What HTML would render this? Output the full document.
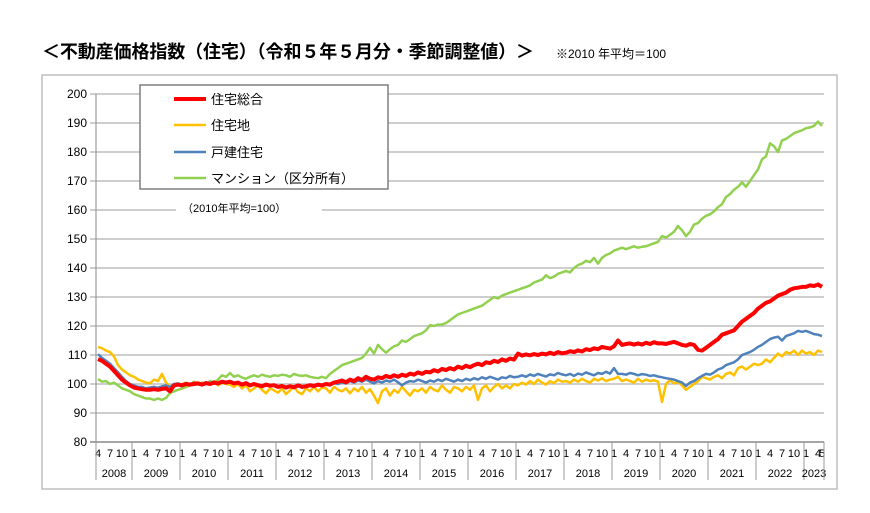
<!DOCTYPE html>
<html><head><meta charset="utf-8">
<style>
body{margin:0;background:#fff;width:870px;height:508px;overflow:hidden;font-family:"Liberation Sans","Noto Sans CJK JP",sans-serif;}
svg text{font-family:"Liberation Sans","Noto Sans CJK JP",sans-serif;}
</style></head><body>
<svg id="chart" width="870" height="508" xmlns="http://www.w3.org/2000/svg">
<text x="42" y="58" font-size="18" font-weight="bold" fill="#000" textLength="492">＜不動産価格指数（住宅）（令和５年５月分・季節調整値）＞</text>
<text x="556" y="58" font-size="12" fill="#000">※2010 年平均＝100</text>
<rect x="42" y="75" width="795" height="414" fill="none" stroke="#bfbfbf" stroke-width="1.5"/>
<g id="grid"></g>
<g id="yticks"></g>
<g id="xaxis"></g>
<g id="series"></g>
<rect x="176" y="198" width="146" height="20" fill="#fff"/>
<text x="182" y="212" font-size="11" fill="#000">（2010年平均=100）</text>
<g>
<rect x="140" y="85" width="248" height="104" fill="#fff" stroke="#7f7f7f" stroke-width="1.5"/>
<g><line x1="174" y1="99" x2="206" y2="99" stroke="#ff0000" stroke-width="4"/><text x="211" y="104" font-size="13">住宅総合</text></g>
<g><line x1="174" y1="125" x2="206" y2="125" stroke="#ffc000" stroke-width="2.5"/><text x="211" y="130" font-size="13">住宅地</text></g>
<g><line x1="174" y1="152" x2="206" y2="152" stroke="#4f81bd" stroke-width="2.5"/><text x="211" y="157" font-size="13">戸建住宅</text></g>
<g><line x1="174" y1="178" x2="206" y2="178" stroke="#92d050" stroke-width="2.5"/><text x="211" y="183" font-size="13">マンション（区分所有）</text></g>
</g>
</svg>
<script>
const years=[2008,2009,2010,2011,2012,2013,2014,2015,2016,2017,2018,2019,2020,2021,2022,2023];
const yTicks=[80,90,100,110,120,130,140,150,160,170,180,190,200];
const total=[108.6,108,107,106,104.5,103,101.5,100.5,99.5,
98.8,98.5,98.2,98,98,98.2,98,98.3,98.5,97.5,99.5,99.8,
99.5,100,99.8,100,100.2,99.8,100.3,100,100.5,100.2,100.8,100.5,
100.8,100.2,100.5,99.8,100.3,99.5,100,99.6,99.2,99.8,99.4,99.6,
99,99.3,98.8,99.2,98.9,99.5,99,99.2,99.6,99.3,99.8,99.5,
100,99.8,100.5,100.8,101.2,100.6,101.5,101,102,101.3,102.5,101.8,
101.5,102.3,102,102.8,102.3,103,102.5,103.2,102.8,103.6,103.2,104,
103.5,104.2,104,104.8,104.3,105.2,104.8,105.5,105,106,105.5,106.3,
105.8,106.5,107,106.5,107.5,107.2,108,107.6,108.5,108,108.8,108.4,
110.5,109.8,110.2,109.9,110.3,110,110.5,110.2,110.8,110.3,111,110.6,
110.8,111.3,111,111.6,111.2,112,111.7,112.3,112,112.8,112.5,112.2,
113,115,113.5,113.8,114,113.6,114,113.6,114.2,113.8,114.4,114,
114,113.8,114.2,114.5,114,113.5,113.2,113.8,113.5,111.8,111.5,112.5,
113.5,114.5,115.5,117,117.5,118,118.5,120,121.5,122.5,123.5,124.5,
126,127,128,128.5,129.5,130.5,131,131.5,132.5,133,133.2,133.5,
133.5,134,133.8,134.3,133.5];
const land=[112.8,112.3,111.5,111,109.5,106.5,105,104,103,
102.5,101.5,101,100.5,100.2,101.5,101,103.5,100.5,98.8,100,99.5,
100,100.5,99.8,100.8,100.3,99.5,100.5,100,101,99.5,100.5,100,
99.8,99,100,98.5,99.5,97.5,98.5,99.5,98,96.8,98.5,97.8,
97,98.5,96.5,97.8,99,97.2,96.5,98.5,97.5,99,97.5,98.8,
98.5,97,99,98,97.5,98.5,96.8,98.5,97.5,99,97,98.2,
96,93.4,97.5,98.5,96,98,97,99,97.5,96,98,97.5,
98.5,97,99,98,97.5,99.5,98,97,99,98.5,97.5,99,
98,99.5,94.5,98.5,99.5,97.5,99,100,98.5,99.5,98.5,100,
99.5,100.5,99.8,101,100,101.5,100.5,99.8,101,100.3,101.5,100.8,
101,100.5,101.5,100.8,101.8,101,100.5,101.8,101.2,102,101,101.5,
101.8,102.5,101,101.5,101,100.5,101.8,100.8,101.5,101,101.3,100.8,
93.8,100,101.3,100.2,100.8,99.5,98,99,100,101,102.5,102,
101.5,102.5,103,102,103.5,104,103,105.5,106,105,106,107,
106.5,107,108.5,107.5,109,110.5,109.5,111,110.5,111.5,110,111.5,
110.5,111,110,111.5,111];
const house=[110.3,109,108,107,105.5,104,102.5,101,100,
99.5,99,99,98.5,98.8,99,98.7,99.2,99.5,99,100,100.2,
99.8,100.3,100,100.5,100.2,100,100.6,100.3,100.8,100.4,101,100.5,
100.5,100,100.3,99.6,100,99.3,99.8,99.4,99,99.6,99.2,99.5,
98.8,99.2,98.5,99,98.6,99.3,98.8,99,99.4,99,99.6,99.3,
100,99.5,100.3,100,100.6,100.2,101,100.5,101.2,100.8,101.5,100.8,
100.2,101,100.5,101.2,100.8,101.5,100.6,99.5,100.5,101,100.8,101.5,
101,100.5,101.2,100.8,101.5,101,101.8,101.3,100.8,101.5,101,101.8,
101.3,102,101.5,102.3,101.8,102.5,102,101.5,102.3,102,102.8,102.3,
102.5,103,102.5,103.3,102.8,103.5,103,102.6,103.3,103,103.8,103.3,
103,103.5,102.8,103.6,103.2,104,103.5,103,103.8,103.5,104.2,103.6,
105.5,103.5,103.5,103.2,103.8,103.5,103,103.4,103.2,102.8,103,102.6,
102.3,102,101.8,101.5,101,100.5,99.3,100.5,101,102,102.8,103.5,
103.2,104,105,105.5,106.5,107,107.5,108.5,110,110.5,111,111.8,
112.8,113.5,114.5,115.5,116,116.3,115,116.5,117,117.5,118.3,118,
118.3,117.8,117.2,117,116.5];
const condo=[101.7,100.8,101,100,100.5,99.5,98.5,98,97.5,
96.5,96,95.5,95,95,94.5,95,94.5,95.2,96.9,97.5,98,
98.5,99,99.5,100,99.8,100.5,100,101,100.5,101.5,103,102.5,
103.8,102.5,103,102.2,101.8,102.5,103,102.5,103.2,102.8,102.5,103,
102.8,103.2,103,102.5,103.5,103,102.8,103,102.5,102.2,102,102.5,
102,103.5,104.5,105.5,106.5,107,107.5,108,108.5,109,110.5,112.5,
110.5,113.5,112,110.8,112,113,113.5,115,114.5,115.5,116.5,117,
117.5,118.5,120.3,120,120.5,120.5,121,122,123,124,124.5,125,
125.5,126,126.5,127,128,129,130,129.5,130.5,131,131.5,132,
132.5,133,133.5,134,135,135.5,136,137.5,136.5,137,138,138.5,
139,138.5,140,141,141.5,142.5,142,143.5,141.5,143.5,144.5,145,
146,146.5,147,146.5,147,147.5,147,147.3,147.5,148,148.5,149,
151,150.5,151.5,152.5,154.5,153,151,152.5,155,155.5,157,158,
158.5,159.5,161,162,164.5,165.5,167,168,169.5,168,170,172,
174,177.5,178.5,183,182,180,184,184.5,185.5,186.5,187,187.5,
188.2,188.5,189,190.5,189];
const X0=96, MW=4, Y80=442, PPU=2.9;
function xOf(i){return X0+MW*(i+0.5);}
function yOf(v){return Y80-(v-80)*PPU;}
const NS='http://www.w3.org/2000/svg';
function mk(tag,attrs,parent){const e=document.createElementNS(NS,tag);for(const k in attrs)e.setAttribute(k,attrs[k]);parent.appendChild(e);return e;}
const grid=document.getElementById('grid'),yt=document.getElementById('yticks'),xa=document.getElementById('xaxis'),ser=document.getElementById('series');
const nMonths=total.length;
const xEnd=X0+MW*nMonths;
yTicks.forEach(v=>{
  const y=yOf(v);
  const ln=mk('line',{x1:X0-6,x2:v===80?xEnd:824,y1:y,y2:y,stroke:v===80?'#888':'#bdbdbd','stroke-width':1.5},grid);
  
  
  const t=mk('text',{x:87,y:y+4,'font-size':12,'text-anchor':'end',fill:'#000'},yt);
  t.textContent=v;
  
  
});
mk('line',{x1:X0,x2:X0,y1:yOf(200),y2:Y80,stroke:'#888','stroke-width':1},grid);
let idx=0;
years.forEach((yr,k)=>{
  const startM=(k===0)?4:1;
  const endM=(yr===2023)?5:12;
  const i0=idx;
  for(let m=startM;m<=endM;m++){
    if(m===1||m===4||m===7||m===10||(yr===2023&&m===5)){
      const t=mk('text',{x:xOf(idx),y:457,'font-size':11,'text-anchor':'middle',fill:'#000'},xa);
      t.textContent=m;
      
      
    }
    idx++;
  }
  const xs=X0+MW*i0, xe=X0+MW*idx;
  const sep=mk('line',{x1:xs,x2:xs,y1:Y80,y2:480,stroke:'#999','stroke-width':1},xa);
  
  
  const yl=mk('text',{x:(xs+xe)/2,y:477,'font-size':11,'text-anchor':'middle',fill:'#000'},xa);
  yl.textContent=yr;
  
  
});
mk('line',{x1:xEnd,x2:xEnd,y1:Y80,y2:480,stroke:'#999','stroke-width':1},xa);
function drawLine(arr,color,w,name){
  const d=arr.map((v,i)=>(i?'L':'M')+xOf(i).toFixed(1)+' '+yOf(v).toFixed(1)).join(' ');
  const p=mk('path',{d:d,fill:'none',stroke:color,'stroke-width':w,'stroke-linejoin':'round'},ser);
  
  
}
drawLine(condo,'#92d050',2.5,'line-condo');
drawLine(land,'#ffc000',2.5,'line-residential-land');
drawLine(house,'#4f81bd',2.5,'line-detached-house');
drawLine(total,'#ff0000',4,'line-housing-total');
</script>
</body></html>
